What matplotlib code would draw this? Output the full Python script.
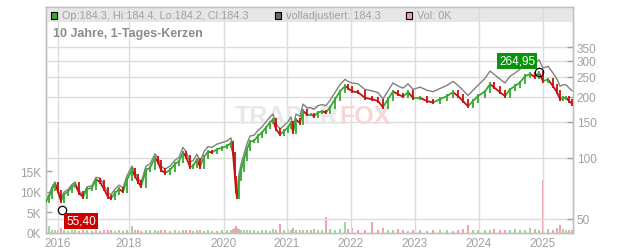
import numpy as np
import matplotlib
matplotlib.use("Agg")
import matplotlib.pyplot as plt
from matplotlib.patches import Rectangle
from matplotlib.collections import LineCollection

plt.rcParams['font.family'] = ['Liberation Sans', 'DejaVu Sans']

# candle index (chart column) and daily close
bar_x = [46, 49, 52, 55, 58, 61, 64, 68, 72, 75,
         79, 83, 87, 92, 96, 100, 104, 108, 111, 115,
         119, 123, 127, 132, 135, 138, 141, 146, 150, 155,
         158, 161, 165, 170, 175, 179, 183, 186, 190, 193,
         197, 200, 204, 208, 212, 217, 222, 227, 231, 233,
         235, 236, 237, 239, 241, 244, 247, 250, 254, 258,
         262, 266, 270, 273, 276, 280, 284, 288, 291, 293,
         296, 300, 303, 307, 311, 314, 318, 322, 326, 330,
         335, 340, 345, 348, 352, 358, 365, 372, 378, 383,
         388, 393, 398, 403, 408, 413, 420, 427, 433, 440,
         447, 453, 458, 463, 468, 473, 478, 485, 490, 494,
         500, 505, 510, 515, 520, 525, 530, 535, 539, 543,
         548, 553, 557, 560, 563, 566, 569, 572]
close = [61, 64, 70, 74, 68, 61, 66, 68, 72, 74,
         67, 64, 70, 71, 78, 76, 70, 64, 63, 67,
         70, 68, 78, 87, 81, 76, 72, 87, 89, 100,
         95, 87, 84, 87, 93, 96, 106, 101, 90, 91,
         98, 90, 101, 107, 106, 110, 112, 114, 118, 105,
         80, 68, 64, 78, 87, 98, 110, 120, 121, 128,
         133, 141, 149, 154, 138, 130, 135, 141, 149, 133,
         154, 148, 170, 163, 163, 160, 167, 169, 167, 177,
         194, 212, 225, 220, 212, 210, 197, 194, 190, 177,
         194, 212, 205, 200, 210, 197, 197, 190, 187, 194,
         201, 210, 201, 190, 179, 190, 201, 212, 230, 222,
         210, 201, 217, 225, 235, 252, 258, 250, 262, 238,
         243, 225, 210, 194, 197, 197, 190, 184.3]
adjusted = [62.5, 65.6, 71.8, 75.9, 69.7, 62.5, 67.7, 69.7, 73.8, 75.9,
            68.7, 65.6, 71.8, 72.8, 80.0, 79.4, 73.2, 66.9, 65.8, 70.0,
            73.2, 71.1, 81.5, 90.9, 84.6, 79.4, 75.2, 90.9, 93.0, 104.5,
            99.3, 90.9, 87.8, 90.9, 97.2, 100.3, 112.4, 107.1, 95.4, 96.5,
            103.9, 95.4, 107.1, 113.4, 112.4, 116.6, 118.7, 120.8, 125.1, 111.3,
            84.8, 72.1, 67.8, 82.7, 92.7, 104.4, 117.2, 127.8, 128.9, 136.3,
            141.6, 150.2, 158.7, 164.0, 147.0, 138.5, 143.8, 150.2, 158.7, 141.6,
            164.0, 159.8, 183.6, 176.0, 176.0, 172.8, 180.4, 182.5, 180.4, 191.2,
            209.5, 229.0, 243.0, 237.6, 233.2, 231.0, 216.7, 213.4, 209.0, 194.7,
            213.4, 233.2, 225.5, 220.0, 231.0, 216.7, 222.6, 214.7, 211.3, 219.2,
            227.1, 237.3, 227.1, 214.7, 202.3, 214.7, 227.1, 245.9, 266.8, 257.5,
            243.6, 233.2, 251.7, 261.0, 272.6, 292.3, 299.3, 290.0, 303.9, 276.1,
            281.9, 261.0, 243.6, 225.0, 228.5, 228.5, 220.4, 213.8]
volume_k = [0.8, 1.5, 0.6, 0.5, 0.7, 1.2, 0.5, 0.4, 0.6, 0.5,
            0.4, 0.6, 0.5, 0.3, 0.5, 0.4, 0.6, 0.7, 0.5, 0.4,
            0.5, 0.3, 0.6, 1.5, 0.7, 0.5, 0.4, 0.6, 0.5, 0.7,
            0.4, 0.5, 0.6, 0.4, 0.5, 0.3, 0.6, 0.5, 0.7, 0.4,
            0.5, 0.6, 0.4, 0.5, 0.3, 0.4, 0.5, 0.6, 0.5, 0.8,
            1.2, 1.7, 1.0, 0.8, 0.6, 0.5, 0.7, 0.5, 0.6, 0.4,
            0.5, 0.6, 0.4, 0.8, 0.7, 2.0, 0.6, 0.5, 0.7, 1.0,
            0.5, 0.6, 0.7, 0.5, 0.6, 0.8, 0.5, 0.7, 3.7, 0.8,
            0.6, 0.9, 2.7, 0.8, 1.0, 0.7, 0.6, 2.7, 0.5, 1.2,
            0.6, 0.5, 0.8, 0.6, 0.4, 0.5, 0.6, 0.4, 0.5, 0.6,
            0.5, 0.4, 0.6, 0.8, 1.8, 0.6, 0.5, 0.7, 0.6, 0.9,
            0.5, 0.7, 0.6, 0.8, 0.5, 0.6, 1.0, 0.9, 0.7, 13.0,
            0.8, 0.7, 1.0, 1.8, 0.9, 0.6, 0.5, 0.7]

low_x, low_val = 62, 55.40
high_x, high_val = 539, 264.95

year_labels = ['2016', '2018', '2020', '2021', '2022', '2023', '2024', '2025']
year_pos = [58, 129, 224, 287, 351, 415, 479, 543]
price_ticks = [50, 100, 150, 200, 250, 300, 350]
vol_ticks = [0, 5, 10, 15]

GREEN = '#3aa832'
RED = '#c81010'
GRID = '#dcdcdc'
TXT = '#a0a0a0'

fig = plt.figure(figsize=(6.32, 2.53), dpi=100)
ax = fig.add_axes([45.5 / 632, 19.5 / 253, 527 / 632, 225.5 / 253])
ax2 = ax.twinx()

# volume (left axis)
opens = [close[0]] + close[:-1]
up = [c >= o for c, o in zip(close, opens)]
vcol = ['#9fd89a' if u else '#f0a3ab' for u in up]
ax.bar(bar_x, volume_k, width=1.3, color=vcol, zorder=1)
ax.set_ylim(0, 55.4)
ax.set_xlim(45.5, 572.5)
ax.set_yticks(vol_ticks)
ax.set_yticklabels([f'{v}K' for v in vol_ticks])
ax.yaxis.tick_left()

# price (right axis, log)
ax2.set_yscale('log')
ax2.set_ylim(42.8, 552)
ax2.set_xlim(45.5, 572.5)
ax2.set_yticks(price_ticks)
ax2.set_yticklabels([str(v) for v in price_ticks])
ax2.yaxis.set_minor_locator(matplotlib.ticker.NullLocator())
ax2.yaxis.tick_right()

# header band and grid
ax2.add_patch(Rectangle((0, 1 - 15 / 225.5), 1, 15 / 225.5, transform=ax2.transAxes,
                        facecolor='#e6e6e6', edgecolor='none', zorder=0.5))
for p in price_ticks:
    ax2.axhline(p, color=GRID, lw=1, zorder=0.8)
for xp in year_pos:
    ax2.axvline(xp, color=GRID, lw=1, zorder=0.8)

# watermark
ax2.text(0.557, 0.515, 'TRADER', transform=ax2.transAxes, fontsize=18, fontweight='bold',
         color='#e8e8e8', ha='right', va='center', zorder=0.9)
ax2.text(0.557, 0.515, 'FOX', transform=ax2.transAxes, fontsize=18, fontweight='bold',
         color='#f9d6d6', ha='left', va='center', zorder=0.9)

# adjusted line + candles
ax2.plot(bar_x, adjusted, color='#808080', lw=1.0, zorder=2)
ccol = [GREEN if u else RED for u in up]
segs = [[(bar_x[i - 1], close[i - 1]), (bar_x[i], close[i])] for i in range(1, len(bar_x))]
ax2.add_collection(LineCollection(segs, colors=ccol[1:], linewidths=1.3, zorder=3))
ax2.vlines(bar_x, np.minimum(opens, close) * 0.98, np.maximum(opens, close) * 1.02,
           colors=ccol, lw=1.3, zorder=3)

# high / low markers
ax2.plot([low_x, high_x], [low_val, high_val], 'o', mfc='none', mec='black', ms=6, mew=0.9, zorder=5)
ax2.annotate(f'{low_val:.2f}'.replace('.', ','), (low_x, low_val), xytext=(19, -11),
             textcoords='offset pixels', ha='center', va='center', color='white', fontsize=8.5,
             bbox=dict(boxstyle='square,pad=0.15', fc='#cc0000', ec='none'), zorder=6)
ax2.annotate(f'{high_val:.2f}'.replace('.', ','), (high_x, high_val), xytext=(-22, 11),
             textcoords='offset pixels', ha='center', va='center', color='white', fontsize=8.5,
             bbox=dict(boxstyle='square,pad=0.15', fc='#0a940a', ec='none'), zorder=6)

# axes styling
for a in (ax, ax2):
    for s in a.spines.values():
        s.set_color('#c0c0c0')
        s.set_linewidth(1)
    a.tick_params(axis='y', direction='in', length=4, width=1, color='#a0a0a0',
                  labelsize=8.5, labelcolor=TXT, pad=3)
ax.set_xticks(year_pos)
ax.set_xticklabels(year_labels)
ax.tick_params(axis='x', length=0, labelsize=8.5, labelcolor=TXT, pad=3)
ax2.tick_params(axis='x', length=0, labelbottom=False)

# header texts
def legend_box(px, color):
    fig.patches.append(Rectangle((px / 632, 1 - 19.5 / 253), 6.5 / 632, 6.5 / 253,
                                 transform=fig.transFigure, facecolor=color,
                                 edgecolor='black', lw=0.8, zorder=10))
legend_box(50.5, GREEN)
legend_box(274.5, '#666666')
legend_box(405.5, '#f0a3ab')
fig.text(62 / 632, 1 - 16 / 253, 'Op:184.3, Hi:184.4, Lo:184.2, Cl:184.3',
         fontsize=7.8, color=TXT, va='center')
fig.text(286 / 632, 1 - 16 / 253, 'volladjustiert: 184.3', fontsize=7.8, color=TXT, va='center')
fig.text(417 / 632, 1 - 16 / 253, 'Vol: 0K', fontsize=7.8, color=TXT, va='center')
fig.text(53 / 632, 1 - 33.5 / 253, '10 Jahre, 1-Tages-Kerzen', fontsize=9, fontweight='bold',
         color='#8c8c8c', va='center')

fig.savefig('out.png', dpi=100)
